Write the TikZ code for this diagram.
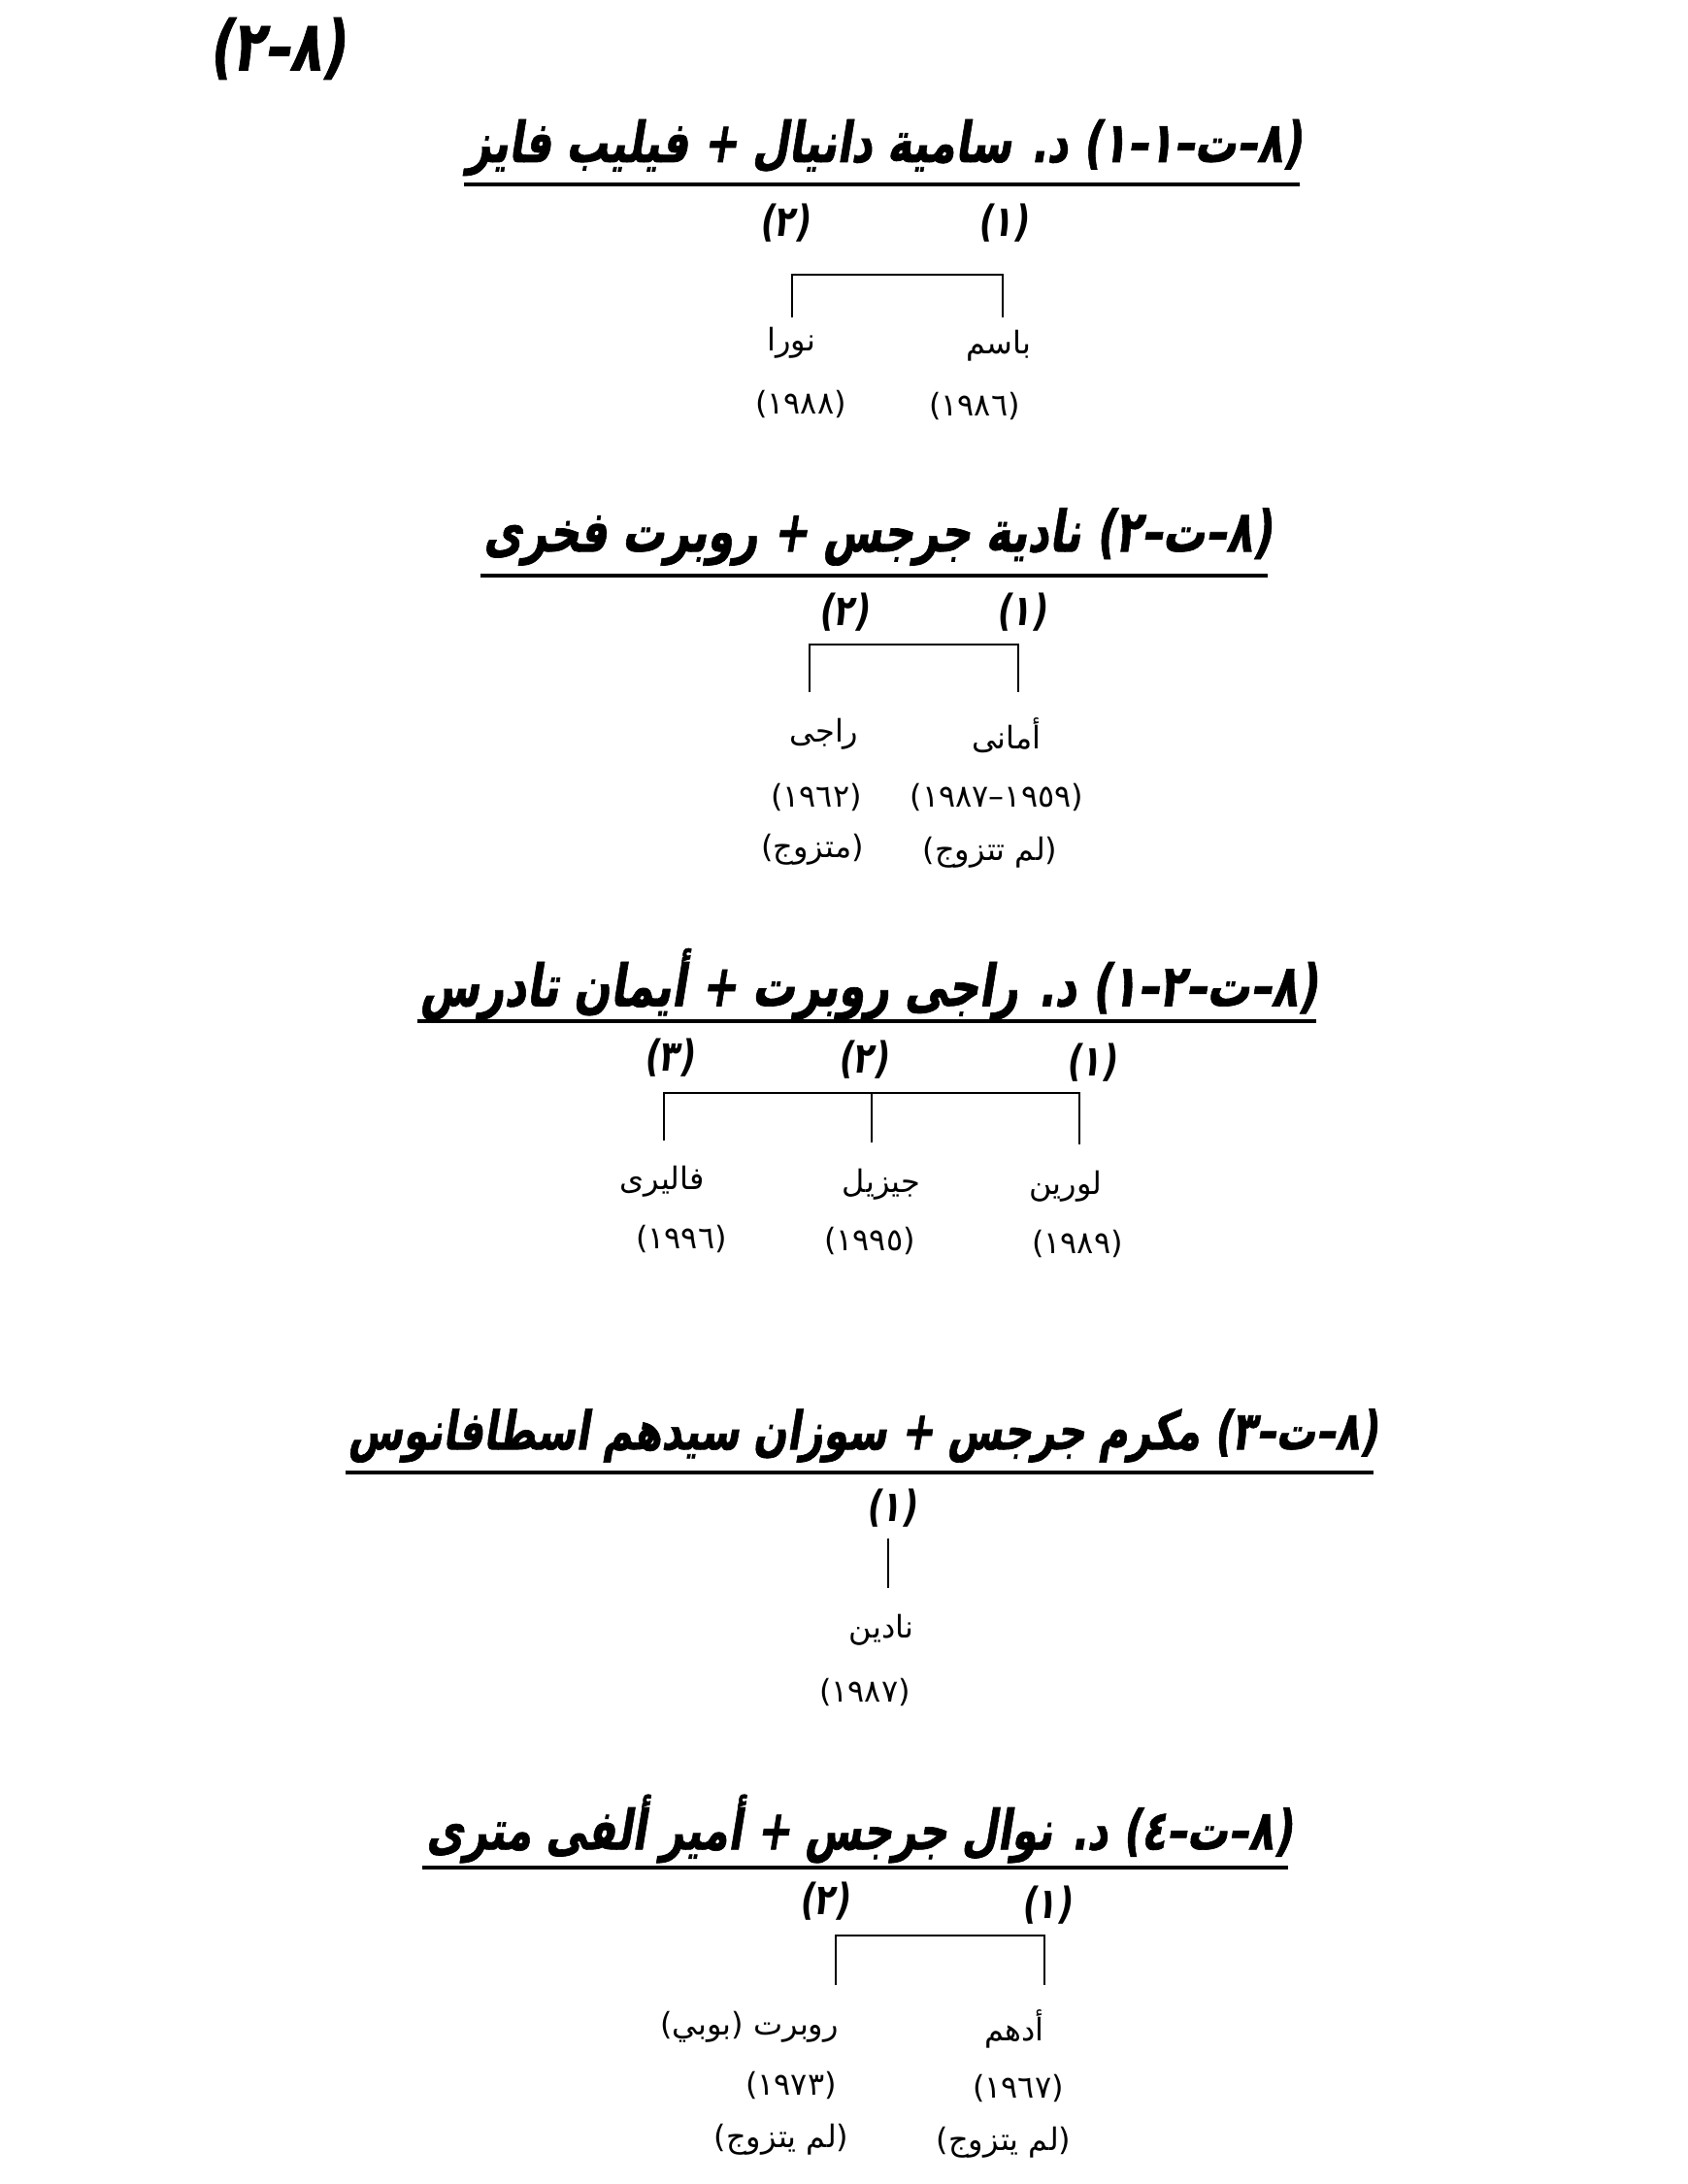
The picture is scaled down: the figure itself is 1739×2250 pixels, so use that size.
\documentclass[tikz,border=0pt]{standalone}
\usepackage{fontspec}
\usepackage{graphicx}
\TeXXeTstate=1
\newfontfamily\arabicfont[Script=Arabic]{DejaVu Sans}
\newfontfamily\arabicbi[Script=Arabic,FakeSlant=0.2]{DejaVu Sans Bold}
\newfontfamily\arabicttl[Script=Arabic,FakeSlant=0.22,FakeBold=1.2]{DejaVu Sans Bold}
\newcommand{\TT}[2]{\scalebox{1}[1.35]{\resizebox{#1pt}{!}{#2}}}
\newcommand{\ON}[1]{\scalebox{1}[1.3]{#1}}
\tikzset{
  kid/.style={font=\arabicfont\fontsize{16}{18}\selectfont, inner sep=0pt},
  ordnum/.style={font=\arabicbi\fontsize{17}{20}\selectfont, inner sep=0pt},
  ttl/.style={font=\arabicttl, inner sep=0pt},
  link/.style={line width=1pt},
  uline/.style={line width=2pt}
}
\begin{document}
\begin{tikzpicture}[x=0.5pt,y=-0.5pt]
\useasboundingbox (0,0) rectangle (1739,2250);
\fill[white] (0,0) rectangle (1739,2250);

% page number
\node[ttl] (t0) at (285,50) {\TT{70}{\beginR (٨–٢)\endR}};

% ---------- family 1
\node[ttl] (t1) at (911,152) {\TT{430}{\beginR (٨–ت–١–١) د. سامية دانيال + فيليب فايز\endR}};
\coordinate (u1a) at (478,190); \coordinate (u1b) at (1339,190);
\draw[uline] (u1a) -- (u1b);
\node[ordnum] (f1o2) at (808,230) {\ON{\beginR (٢)\endR}};
\node[ordnum] (f1o1) at (1033,230) {\ON{\beginR (١)\endR}};
\coordinate (f1l) at (816,283); \coordinate (f1r) at (1033,283);
\coordinate (f1lb) at (816,327); \coordinate (f1rb) at (1033,327);
\draw[link] (f1lb) -- (f1l) -- (f1r) -- (f1rb);
\node[kid] (f1n2) at (815,353) {\beginR نورا\endR};
\node[kid] (f1n1) at (1029,356) {\beginR باسم\endR};
\node[kid] (f1y2) at (825,416) {\beginR (١٩٨٨)\endR};
\node[kid] (f1y1) at (1004,418) {\beginR (١٩٨٦)\endR};

% ---------- family 2
\node[ttl] (t2) at (904,553) {\TT{406}{\beginR (٨–ت–٢) نادية جرجس + روبرت فخرى\endR}};
\coordinate (u2a) at (495,593); \coordinate (u2b) at (1306,593);
\draw[uline] (u2a) -- (u2b);
\node[ordnum] (f2o2) at (869,631) {\ON{\beginR (٢)\endR}};
\node[ordnum] (f2o1) at (1052,631) {\ON{\beginR (١)\endR}};
\coordinate (f2l) at (834,664); \coordinate (f2r) at (1049,664);
\coordinate (f2lb) at (834,713); \coordinate (f2rb) at (1049,713);
\draw[link] (f2lb) -- (f2l) -- (f2r) -- (f2rb);
\node[kid] (f2n2) at (849,756) {\beginR راجى\endR};
\node[kid] (f2n1) at (1037,758) {\beginR أمانى\endR};
\node[kid] (f2y2) at (841,821) {\beginR (١٩٦٢)\endR};
\node[kid] (f2y1) at (1027,821) {\beginR (١٩٥٩–١٩٨٧)\endR};
\node[kid] (f2m2) at (837,875) {\beginR (متزوج)\endR};
\node[kid] (f2m1) at (1020,878) {\beginR (لم تتزوج)\endR};

% ---------- family 3
\node[ttl] (t3) at (895,1014) {\TT{462}{\beginR (٨–ت–٢–١) د. راجى روبرت + أيمان تادرس\endR}};
\coordinate (u3a) at (430,1052); \coordinate (u3b) at (1356,1052);
\draw[uline] (u3a) -- (u3b);
\node[ordnum] (f3o3) at (689,1090) {\ON{\beginR (٣)\endR}};
\node[ordnum] (f3o2) at (889,1092) {\ON{\beginR (٢)\endR}};
\node[ordnum] (f3o1) at (1124,1095) {\ON{\beginR (١)\endR}};
\coordinate (f3l) at (684,1126); \coordinate (f3m) at (898,1126); \coordinate (f3r) at (1112,1126);
\coordinate (f3lb) at (684,1175); \coordinate (f3mb) at (898,1177); \coordinate (f3rb) at (1112,1179);
\draw[link] (f3lb) -- (f3l) -- (f3r) -- (f3rb);
\draw[link] (f3m) -- (f3mb);
\node[kid] (f3n3) at (682,1217) {\beginR فاليرى\endR};
\node[kid] (f3n2) at (908,1220) {\beginR جيزيل\endR};
\node[kid] (f3n1) at (1098,1222) {\beginR لورين\endR};
\node[kid] (f3y3) at (702,1276) {\beginR (١٩٩٦)\endR};
\node[kid] (f3y2) at (896,1278) {\beginR (١٩٩٥)\endR};
\node[kid] (f3y1) at (1110,1281) {\beginR (١٩٨٩)\endR};

% ---------- family 4
\node[ttl] (t4) at (889,1479) {\TT{530}{\beginR (٨–ت–٣) مكرم جرجس + سوزان سيدهم اسطافانوس\endR}};
\coordinate (u4a) at (356,1517); \coordinate (u4b) at (1415,1517);
\draw[uline] (u4a) -- (u4b);
\node[ordnum] (f4o1) at (918,1554) {\ON{\beginR (١)\endR}};
\coordinate (f4t) at (915,1585); \coordinate (f4b) at (915,1636);
\draw[link] (f4t) -- (f4b);
\node[kid] (f4n1) at (908,1679) {\beginR نادين\endR};
\node[kid] (f4y1) at (891,1743) {\beginR (١٩٨٧)\endR};

% ---------- family 5
\node[ttl] (t5) at (885,1884) {\TT{446}{\beginR (٨–ت–٤) د. نوال جرجس + أمير ألفى مترى\endR}};
\coordinate (u5a) at (435,1924); \coordinate (u5b) at (1327,1924);
\draw[uline] (u5a) -- (u5b);
\node[ordnum] (f5o2) at (849,1959) {\ON{\beginR (٢)\endR}};
\node[ordnum] (f5o1) at (1078,1963) {\ON{\beginR (١)\endR}};
\coordinate (f5l) at (861,1994); \coordinate (f5r) at (1076,1994);
\coordinate (f5lb) at (861,2045); \coordinate (f5rb) at (1076,2045);
\draw[link] (f5lb) -- (f5l) -- (f5r) -- (f5rb);
\node[kid] (f5n2) at (772,2088) {\beginR روبرت (بوبي)\endR};
\node[kid] (f5n1) at (1045,2090) {\beginR أدهم\endR};
\node[kid] (f5y2) at (815,2148) {\beginR (١٩٧٣)\endR};
\node[kid] (f5y1) at (1049,2151) {\beginR (١٩٦٧)\endR};
\node[kid] (f5m2) at (805,2204) {\beginR (لم يتزوج)\endR};
\node[kid] (f5m1) at (1034,2207) {\beginR (لم يتزوج)\endR};
\end{tikzpicture}
\end{document}
